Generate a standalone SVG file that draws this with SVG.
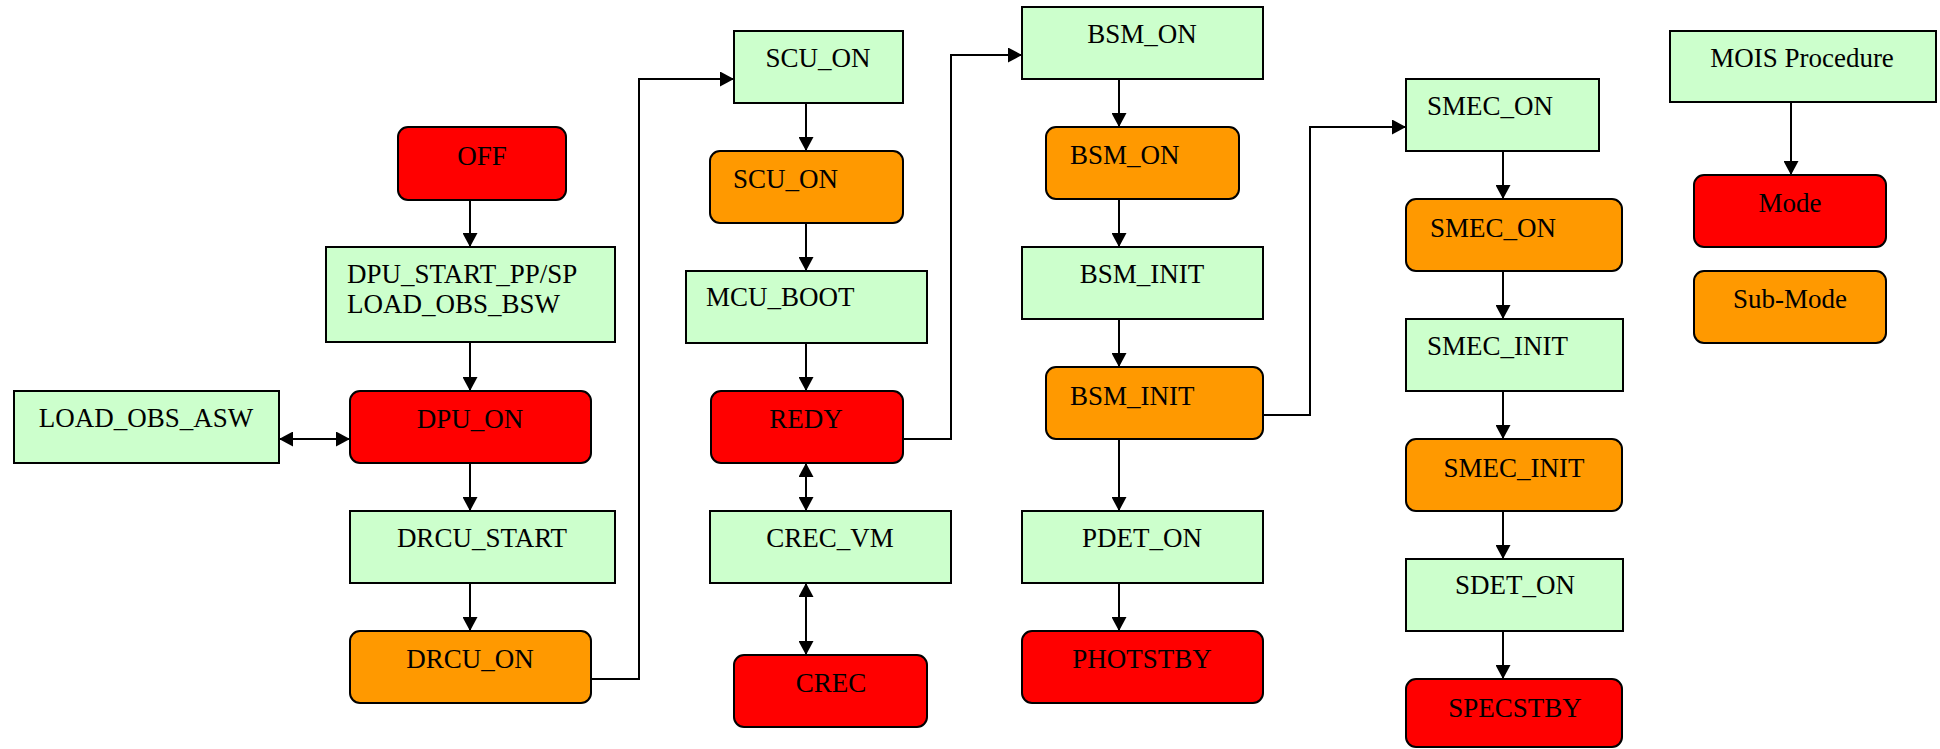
<svg xmlns="http://www.w3.org/2000/svg" width="1940" height="749" viewBox="0 0 1940 749">
<style>
.g{fill:#CCFFCC;stroke:#000;stroke-width:2}
.r{fill:#FF0000;stroke:#000;stroke-width:2}
.o{fill:#FF9900;stroke:#000;stroke-width:2}
text{font-family:"Liberation Serif","Times New Roman",serif;font-size:27px;fill:#000}
.c{text-anchor:middle}
.ln{fill:none;stroke:#000;stroke-width:2}
</style>
<defs>
<marker id="ah" markerUnits="userSpaceOnUse" viewBox="0 0 14 15" refX="14" refY="7.5" markerWidth="14" markerHeight="15" orient="auto-start-reverse">
<path d="M0,0 L14,7.5 L0,15 Z" fill="#000"/>
</marker>
</defs>
<rect width="1940" height="749" fill="#fff"/>
<g id="connectors">
<path class="ln" d="M470,200 V247" marker-end="url(#ah)"/>
<path class="ln" d="M470,342 V391" marker-end="url(#ah)"/>
<path class="ln" d="M470,463 V511" marker-end="url(#ah)"/>
<path class="ln" d="M470,583 V631" marker-end="url(#ah)"/>
<path class="ln" d="M279,439 H350" marker-start="url(#ah)" marker-end="url(#ah)"/>
<path class="ln" d="M591,679 H639 V79 H734" marker-end="url(#ah)"/>
<path class="ln" d="M806,103 V151" marker-end="url(#ah)"/>
<path class="ln" d="M806,223 V271" marker-end="url(#ah)"/>
<path class="ln" d="M806,343 V391" marker-end="url(#ah)"/>
<path class="ln" d="M806,463 V511" marker-start="url(#ah)" marker-end="url(#ah)"/>
<path class="ln" d="M806,583 V655" marker-start="url(#ah)" marker-end="url(#ah)"/>
<path class="ln" d="M903,439 H951 V55 H1022" marker-end="url(#ah)"/>
<path class="ln" d="M1119,79 V127" marker-end="url(#ah)"/>
<path class="ln" d="M1119,199 V247" marker-end="url(#ah)"/>
<path class="ln" d="M1119,319 V367" marker-end="url(#ah)"/>
<path class="ln" d="M1119,439 V511" marker-end="url(#ah)"/>
<path class="ln" d="M1119,583 V631" marker-end="url(#ah)"/>
<path class="ln" d="M1263,415 H1310 V127 H1406" marker-end="url(#ah)"/>
<path class="ln" d="M1503,151 V199" marker-end="url(#ah)"/>
<path class="ln" d="M1503,271 V319" marker-end="url(#ah)"/>
<path class="ln" d="M1503,391 V439" marker-end="url(#ah)"/>
<path class="ln" d="M1503,511 V559" marker-end="url(#ah)"/>
<path class="ln" d="M1503,631 V679" marker-end="url(#ah)"/>
<path class="ln" d="M1791,102 V175" marker-end="url(#ah)"/>
</g>
<g id="off"><rect class="r" x="398" y="127" width="168" height="73" rx="10"/><text class="c" x="482" y="165">OFF</text></g>
<g id="dpu_start"><rect class="g" x="326" y="247" width="289" height="95"/><text x="347" y="283">DPU_START_PP/SP</text><text x="347" y="313">LOAD_OBS_BSW</text></g>
<g id="load_obs_asw"><rect class="g" x="14" y="391" width="265" height="72"/><text class="c" x="146" y="427">LOAD_OBS_ASW</text></g>
<g id="dpu_on"><rect class="r" x="350" y="391" width="241" height="72" rx="10"/><text class="c" x="470" y="428">DPU_ON</text></g>
<g id="drcu_start"><rect class="g" x="350" y="511" width="265" height="72"/><text class="c" x="482" y="547">DRCU_START</text></g>
<g id="drcu_on"><rect class="o" x="350" y="631" width="241" height="72" rx="10"/><text class="c" x="470" y="668">DRCU_ON</text></g>
<g id="scu_on_proc"><rect class="g" x="734" y="31" width="169" height="72"/><text class="c" x="818" y="67">SCU_ON</text></g>
<g id="scu_on_sub"><rect class="o" x="710" y="151" width="193" height="72" rx="10"/><text x="733" y="188">SCU_ON</text></g>
<g id="mcu_boot"><rect class="g" x="686" y="271" width="241" height="72"/><text x="706" y="306">MCU_BOOT</text></g>
<g id="redy"><rect class="r" x="711" y="391" width="192" height="72" rx="10"/><text class="c" x="806" y="428">REDY</text></g>
<g id="crec_vm"><rect class="g" x="710" y="511" width="241" height="72"/><text class="c" x="830" y="547">CREC_VM</text></g>
<g id="crec"><rect class="r" x="734" y="655" width="193" height="72" rx="10"/><text class="c" x="831" y="692">CREC</text></g>
<g id="bsm_on_proc"><rect class="g" x="1022" y="7" width="241" height="72"/><text class="c" x="1142" y="43">BSM_ON</text></g>
<g id="bsm_on_sub"><rect class="o" x="1046" y="127" width="193" height="72" rx="10"/><text x="1070" y="164">BSM_ON</text></g>
<g id="bsm_init_proc"><rect class="g" x="1022" y="247" width="241" height="72"/><text class="c" x="1142" y="283">BSM_INIT</text></g>
<g id="bsm_init_sub"><rect class="o" x="1046" y="367" width="217" height="72" rx="10"/><text x="1070" y="405">BSM_INIT</text></g>
<g id="pdet_on"><rect class="g" x="1022" y="511" width="241" height="72"/><text class="c" x="1142" y="547">PDET_ON</text></g>
<g id="photstby"><rect class="r" x="1022" y="631" width="241" height="72" rx="10"/><text class="c" x="1142" y="668">PHOTSTBY</text></g>
<g id="smec_on_proc"><rect class="g" x="1406" y="79" width="193" height="72"/><text x="1427" y="115">SMEC_ON</text></g>
<g id="smec_on_sub"><rect class="o" x="1406" y="199" width="216" height="72" rx="10"/><text x="1430" y="237">SMEC_ON</text></g>
<g id="smec_init_proc"><rect class="g" x="1406" y="319" width="217" height="72"/><text x="1427" y="355">SMEC_INIT</text></g>
<g id="smec_init_sub"><rect class="o" x="1406" y="439" width="216" height="72" rx="10"/><text class="c" x="1514" y="477">SMEC_INIT</text></g>
<g id="sdet_on"><rect class="g" x="1406" y="559" width="217" height="72"/><text class="c" x="1515" y="594">SDET_ON</text></g>
<g id="specstby"><rect class="r" x="1406" y="679" width="216" height="68" rx="10"/><text class="c" x="1515" y="717">SPECSTBY</text></g>
<g id="mois_procedure"><rect class="g" x="1670" y="31" width="266" height="71"/><text class="c" x="1802" y="67">MOIS Procedure</text></g>
<g id="mode"><rect class="r" x="1694" y="175" width="192" height="72" rx="10"/><text class="c" x="1790" y="212">Mode</text></g>
<g id="sub_mode"><rect class="o" x="1694" y="271" width="192" height="72" rx="10"/><text class="c" x="1790" y="308">Sub-Mode</text></g>
</svg>
